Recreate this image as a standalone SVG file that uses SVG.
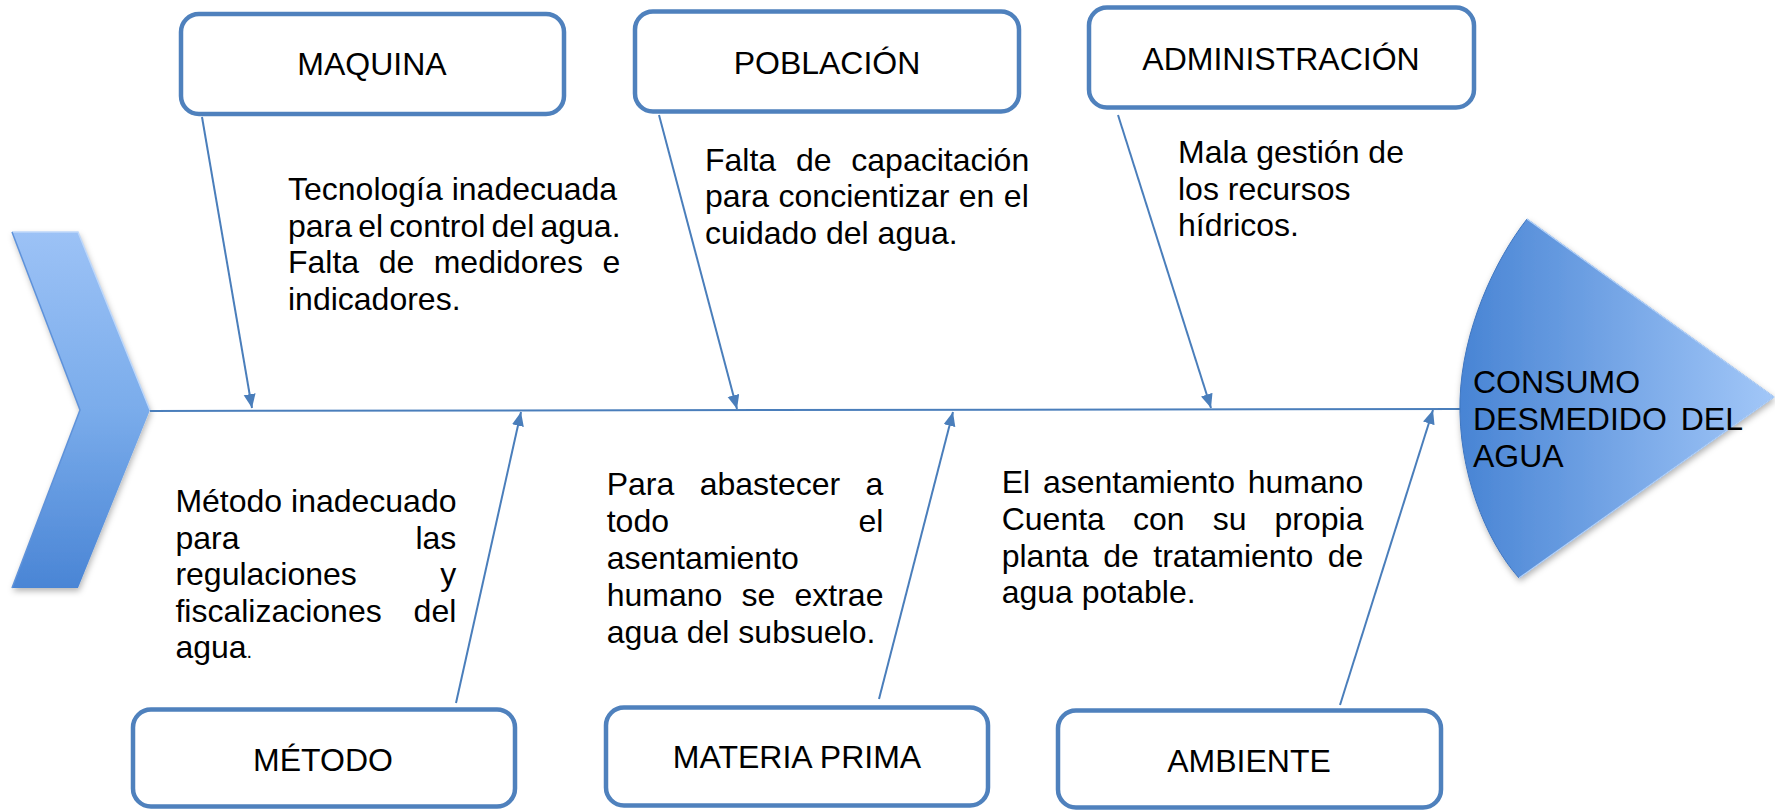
<svg xmlns="http://www.w3.org/2000/svg" width="1775" height="811" viewBox="0 0 1775 811">
<style>
.box{fill:#fff;stroke:#4F81BD;stroke-width:4.5}
.lbl{font-family:"Liberation Sans",Arial,sans-serif;font-size:32px;fill:#000;text-anchor:middle}
.t{font-family:"Liberation Sans",Arial,sans-serif;font-size:32px;fill:#000}
.e{text-anchor:end}
.con{stroke:#4A7EBB;stroke-width:2;fill:none}
</style>
<defs>
<marker id="ah" markerUnits="userSpaceOnUse" markerWidth="15" markerHeight="13" refX="14" refY="6" orient="auto">
<path d="M0,0 L14,6 L0,12 z" fill="#4A7EBB"/>
</marker>
<linearGradient id="gchev" x1="0" y1="0" x2="0" y2="1">
<stop offset="0" stop-color="#9CC2F6"/>
<stop offset="0.5" stop-color="#7AACEB"/>
<stop offset="1" stop-color="#4A85D5"/>
</linearGradient>
<linearGradient id="ghead" x1="0" y1="0" x2="1" y2="0">
<stop offset="0" stop-color="#4884D4"/>
<stop offset="1" stop-color="#A2C7F8"/>
</linearGradient>
<filter id="sh" x="-20%" y="-20%" width="140%" height="140%">
<feDropShadow dx="1" dy="3" stdDeviation="3" flood-color="#000" flood-opacity="0.3"/>
</filter>
</defs>

<g id="tail">
<polygon points="12,232 78,232 150,410 78,588 12,588 80,410" fill="url(#gchev)" filter="url(#sh)"/>
<polyline points="12,232 78,232 150,410" fill="none" stroke="#BFD8FA" stroke-width="1.5"/>
<polyline points="12,232 80,410 12,588" fill="none" stroke="#5E92DA" stroke-width="1.5"/>
</g>

<g id="connectors">
<line class="con" x1="150" y1="411" x2="1462" y2="409"/>
<line class="con" x1="202" y1="117" x2="252" y2="408" marker-end="url(#ah)"/>
<line class="con" x1="659" y1="115" x2="737" y2="409" marker-end="url(#ah)"/>
<line class="con" x1="1118" y1="115" x2="1211" y2="408" marker-end="url(#ah)"/>
<line class="con" x1="456" y1="703" x2="521" y2="412" marker-end="url(#ah)"/>
<line class="con" x1="879" y1="699" x2="953" y2="412" marker-end="url(#ah)"/>
<line class="con" x1="1340" y1="705" x2="1433" y2="410" marker-end="url(#ah)"/>
</g>

<g id="head">
<path d="M1527,219 L1774,397 L1519,578 C1485,540 1458,470 1460,400 C1462,330 1495,260 1527,219 Z" fill="url(#ghead)" stroke="#3F76C0" stroke-width="1" filter="url(#sh)"/>
<polyline points="1527,219 1774,397 1519,578" fill="none" stroke="#B5D3FA" stroke-width="1.2"/>
<text class="t" x="1473" y="392.7">CONSUMO</text>
<text class="t" x="1473" y="430">DESMEDIDO</text>
<text class="t e" x="1743" y="430">DEL</text>
<text class="t" x="1473" y="466.7">AGUA</text>
</g>

<g id="maquina">
<rect class="box" x="181" y="14" width="383" height="100" rx="18"/>
<text class="lbl" x="372" y="75">MAQUINA</text>
</g>
<g id="poblacion">
<rect class="box" x="635" y="11.5" width="384" height="100" rx="18"/>
<text class="lbl" x="827" y="74">POBLACIÓN</text>
</g>
<g id="administracion">
<rect class="box" x="1089" y="7.5" width="385" height="100" rx="18"/>
<text class="lbl" x="1281" y="70">ADMINISTRACIÓN</text>
</g>
<g id="metodo">
<rect class="box" x="133" y="709.5" width="382" height="97" rx="18"/>
<text class="lbl" x="323" y="771">MÉTODO</text>
</g>
<g id="materia-prima">
<rect class="box" x="606" y="707.5" width="382" height="98" rx="18"/>
<text class="lbl" x="797" y="768">MATERIA PRIMA</text>
</g>
<g id="ambiente">
<rect class="box" x="1058" y="710.5" width="383" height="97" rx="18"/>
<text class="lbl" x="1249" y="772">AMBIENTE</text>
</g>

<g id="causa-maquina">
<text class="t" x="288" y="200">Tecnología inadecuada</text>
<text class="t" x="288" y="236.7" word-spacing="-2.7">para el control del agua.</text>
<text class="t" x="288" y="273.3" word-spacing="10.6">Falta de medidores e</text>
<text class="t" x="288" y="310">indicadores.</text>
</g>
<g id="causa-poblacion">
<text class="t" x="705" y="170.7" word-spacing="10.9">Falta de capacitación</text>
<text class="t" x="705" y="207.3" word-spacing="0.6">para concientizar en el</text>
<text class="t" x="705" y="244">cuidado del agua.</text>
</g>
<g id="causa-administracion">
<text class="t" x="1178" y="163">Mala gestión de</text>
<text class="t" x="1178" y="199.5">los recursos</text>
<text class="t" x="1178" y="236">hídricos.</text>
</g>
<g id="causa-metodo">
<text class="t" x="175.4" y="512.3">Método inadecuado</text>
<text class="t" x="175.4" y="548.7">para</text>
<text class="t e" x="456.3" y="548.7">las</text>
<text class="t" x="175.4" y="585">regulaciones</text>
<text class="t e" x="456.3" y="585">y</text>
<text class="t" x="175.4" y="621.7">fiscalizaciones</text>
<text class="t e" x="456.3" y="621.7">del</text>
<text class="t" x="175.4" y="658.3">agua<tspan font-size="20">.</tspan></text>
</g>
<g id="causa-materia-prima">
<text class="t" x="606.7" y="495" word-spacing="16.5">Para abastecer a</text>
<text class="t" x="606.7" y="531.7">todo</text>
<text class="t e" x="883.3" y="531.7">el</text>
<text class="t" x="606.7" y="568.5">asentamiento</text>
<text class="t" x="606.7" y="605.5" word-spacing="10.3">humano se extrae</text>
<text class="t" x="606.7" y="642.5">agua del subsuelo.</text>
</g>
<g id="causa-ambiente">
<text class="t" x="1001.7" y="493.3" word-spacing="3.85">El asentamiento humano</text>
<text class="t" x="1001.7" y="530" word-spacing="19.2">Cuenta con su propia</text>
<text class="t" x="1001.7" y="566.7" word-spacing="5.5">planta de tratamiento de</text>
<text class="t" x="1001.7" y="603.3">agua potable.</text>
</g>
</svg>
